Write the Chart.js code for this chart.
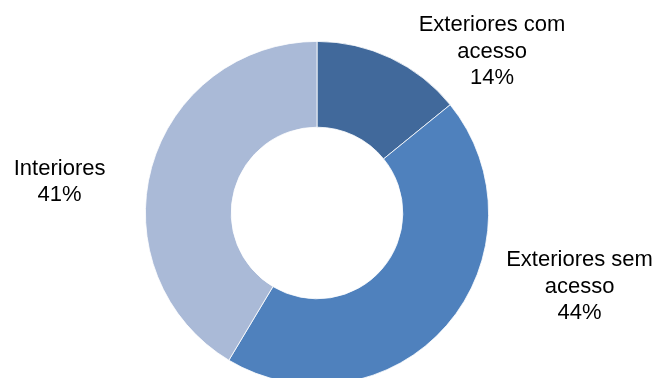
<!DOCTYPE html>
<html>
<head>
<meta charset="utf-8">
<script src="https://cdn.jsdelivr.net/npm/chart.js@4/dist/chart.umd.min.js"></script>
<style>
    html, body { margin: 0; padding: 0; background: #fff; overflow: hidden; }
    #wrap { width: 658px; height: 378px; overflow: hidden; }
</style>
</head>
<body>
<div id="wrap"><canvas id="donut" width="658" height="426"></canvas></div>
<script>
const categories = ["Exteriores com acesso", "Exteriores sem acesso", "Interiores"];
const values = [14, 44, 41];
const labelLines = [["Exteriores com", "acesso", "14%"], ["Exteriores sem", "acesso", "44%"], ["Interiores", "41%"]];
const colors = ["#41699b", "#4f81bd", "#aabad7"];

// label offsets from the doughnut centre, in units of outer radius
const labelOffsets = [[1.02, -0.94], [1.53, 0.43], [-1.5, -0.18]];

const labelPlugin = {
    id: "donutLabels",
    afterDatasetsDraw(chart) {
        const ctx = chart.ctx;
        const arcs = chart.getDatasetMeta(0).data;
        ctx.save();
        ctx.font = "22px 'Liberation Sans', Arial, sans-serif";
        ctx.fillStyle = "#000";
        ctx.textAlign = "center";
        ctx.textBaseline = "middle";
        arcs.forEach((arc, i) => {
            const r = arc.outerRadius;
            const cx = arc.x + labelOffsets[i][0] * r;
            const cy = arc.y + labelOffsets[i][1] * r;
            const lines = labelLines[i];
            const lh = 26.5;
            lines.forEach((line, j) => {
                ctx.fillText(line, cx, cy + (j - (lines.length - 1) / 2) * lh);
            });
        });
        ctx.restore();
    }
};

new Chart(document.getElementById("donut"), {
    type: "doughnut",
    data: {
        labels: categories,
        datasets: [{
            data: values,
            backgroundColor: colors,
            borderColor: "#ffffff",
            borderWidth: 0.8
        }]
    },
    options: {
        responsive: false,
        animation: false,
        cutout: "50%",
        layout: { padding: { left: 145, right: 169, top: 41, bottom: 41 } },
        plugins: {
            legend: { display: false },
            tooltip: { enabled: false }
        }
    },
    plugins: [labelPlugin]
});
</script>
</body>
</html>
